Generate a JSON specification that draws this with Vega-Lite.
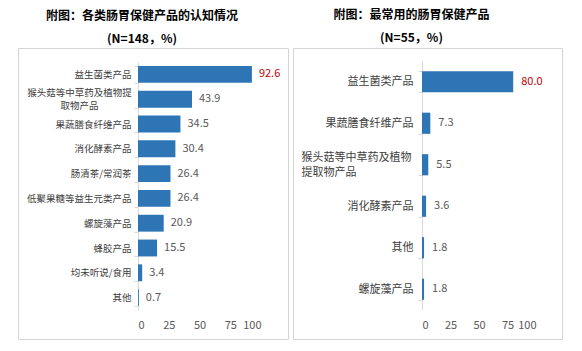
{
  "$schema": "https://vega.github.io/schema/vega-lite/v6.json",
  "padding": {"left": 17, "top": 8, "right": 0, "bottom": 0},
  "background": "white",
  "datasets": {
    "known": [
      {"cat": "益生菌类产品", "pct": 92.6},
      {"cat": "猴头菇等中草药及植物提|取物产品", "pct": 43.9},
      {"cat": "果蔬膳食纤维产品", "pct": 34.5},
      {"cat": "消化酵素产品", "pct": 30.4},
      {"cat": "肠清茶/常润茶", "pct": 26.4},
      {"cat": "低聚果糖等益生元类产品", "pct": 26.4},
      {"cat": "螺旋藻产品", "pct": 20.9},
      {"cat": "蜂胶产品", "pct": 15.5},
      {"cat": "均未听说/食用", "pct": 3.4},
      {"cat": "其他", "pct": 0.7}
    ],
    "used": [
      {"cat": "益生菌类产品", "pct": 80.0},
      {"cat": "果蔬膳食纤维产品", "pct": 7.3},
      {"cat": "猴头菇等中草药及植物|提取物产品", "pct": 5.5},
      {"cat": "消化酵素产品", "pct": 3.6},
      {"cat": "其他", "pct": 1.8},
      {"cat": "螺旋藻产品", "pct": 1.8}
    ]
  },
  "spacing": 3,
  "hconcat": [
    {
      "width": 270,
      "height": 291,
      "title": {"text": ["附图：各类肠胃保健产品的认知情况", "(N=148，%)"], "dx": -11},
      "data": {"name": "known"},
      "encoding": {
        "y": {
          "field": "cat", "type": "nominal", "sort": null,
          "scale": {"range": [14, 262], "paddingInner": 0.32, "paddingOuter": 0.16},
          "axis": {"title": null, "offset": -120, "labelFontSize": 9.5, "labelLineHeight": 13,
                   "labelExpr": "isValid(datum.value) ? split(datum.value, '|') : ''", "tickBand": "extent",
                   "labelAlign": {"condition": {"test": "isValid(datum.value) && indexof(datum.value, '|') >= 0", "value": "center"}, "value": "right"},
                   "labelPadding": {"condition": {"test": "isValid(datum.value) && indexof(datum.value, '|') >= 0", "value": 55}, "value": 3},
                   "labelOffset": {"condition": {"test": "isValid(datum.value) && indexof(datum.value, '|') >= 0", "value": -6.5}, "value": 0}}
        },
        "x": {
          "field": "pct", "type": "quantitative",
          "scale": {"domain": [0, 100], "range": [120, 243]},
          "axis": {"title": null, "offset": -28, "values": [0, 25, 50, 75, 100], "domain": false, "ticks": false, "grid": false, "labelPadding": 8}
        }
      },
      "layer": [
        {"mark": {"type": "bar", "color": "#2e75b6"}},
        {
          "mark": {"type": "text", "align": "left", "dx": 7, "fontSize": 11},
          "encoding": {
            "text": {"field": "pct", "format": ".1f"},
            "color": {"condition": {"test": "datum.pct > 50", "value": "#c00000"}, "value": "#595959"},
            "fontWeight": {"condition": {"test": "datum.pct > 50", "value": "bold"}, "value": "normal"}
          }
        }
      ]
    },
    {
      "width": 269,
      "height": 291,
      "title": {"text": ["附图：最常用的肠胃保健产品", "(N=55，%)"], "dx": -16},
      "data": {"name": "used"},
      "encoding": {
        "y": {
          "field": "cat", "type": "nominal", "sort": null,
          "scale": {"range": [13, 262], "paddingInner": 0.49, "paddingOuter": 0.245},
          "axis": {"title": null, "offset": -129, "labelFontSize": 11, "labelLineHeight": 15,
                   "labelExpr": "isValid(datum.value) ? split(datum.value, '|') : ''", "tickBand": "extent",
                   "labelAlign": {"condition": {"test": "isValid(datum.value) && indexof(datum.value, '|') >= 0", "value": "left"}, "value": "right"},
                   "labelPadding": {"condition": {"test": "isValid(datum.value) && indexof(datum.value, '|') >= 0", "value": 117}, "value": 5},
                   "labelOffset": {"condition": {"test": "isValid(datum.value) && indexof(datum.value, '|') >= 0", "value": -7.5}, "value": 0}}
        },
        "x": {
          "field": "pct", "type": "quantitative",
          "scale": {"domain": [0, 100], "range": [129, 243]},
          "axis": {"title": null, "offset": -28, "values": [0, 25, 50, 75, 100], "domain": false, "ticks": false, "grid": false, "labelPadding": 8}
        }
      },
      "layer": [
        {"mark": {"type": "bar", "color": "#2e75b6"}},
        {
          "mark": {"type": "text", "align": "left", "dx": 8, "fontSize": 11},
          "encoding": {
            "text": {"field": "pct", "format": ".1f"},
            "color": {"condition": {"test": "datum.pct > 50", "value": "#c00000"}, "value": "#595959"},
            "fontWeight": {"condition": {"test": "datum.pct > 50", "value": "bold"}, "value": "normal"}
          }
        }
      ]
    }
  ],
  "config": {
    "font": "Noto Sans CJK SC",
    "view": {"stroke": "#d4d4d4", "strokeWidth": 1},
    "title": {"fontSize": 12, "fontWeight": "bold", "color": "#000000", "lineHeight": 23, "offset": -3, "anchor": "middle"},
    "axis": {"labelColor": "#404040", "domainColor": "#d9d9d9", "tickColor": "#d9d9d9", "tickSize": 4, "labelFont": "Noto Sans CJK SC"},
    "axisX": {"labelFontSize": 11, "labelColor": "#595959"}
  }
}
